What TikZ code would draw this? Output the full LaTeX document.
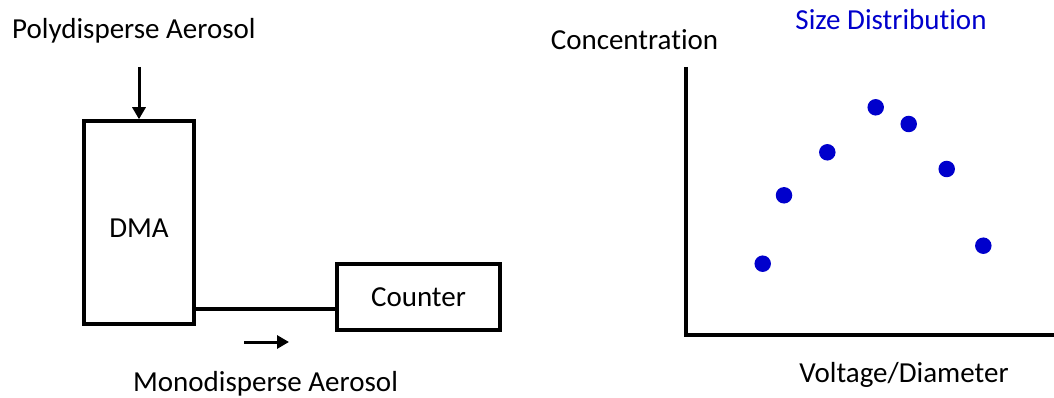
\documentclass[tikz,border=0pt]{standalone}
\usepackage{fontspec}
\setmainfont{Carlito}[Ligatures={NoCommon}]
\usetikzlibrary{arrows.meta}
\definecolor{dotblue}{RGB}{0,0,204}
\tikzset{
  box/.style={draw, line width=3.5pt, inner sep=0pt, font=\fontsize{29}{34}\selectfont},
  label/.style={inner sep=0pt, font=\fontsize{29}{34}\selectfont},
  wire/.style={line width=3.5pt},
  flow/.style={line width=3pt, -{Triangle[width=13pt,length=12pt]}},
  axis/.style={line width=4pt},
  dot/.style={circle, fill=dotblue, minimum size=16.5pt, inner sep=0pt}
}
\begin{document}
\begin{tikzpicture}[x=1pt,y=-1pt]
  \useasboundingbox (0,0) rectangle (1054,398);
  % instrument chain
  \node[box, minimum width=110pt, minimum height=203pt] (dma) at (139,222.5) {};
  \node[label] (dmatext) at (139,228) {DMA};
  \node[box, minimum width=163pt, minimum height=66pt] (counter) at (418.5,297) {Counter};
  \coordinate (inlet) at (139,67);
  \draw[flow] (inlet) -- (dma.north);
  \coordinate (outlet) at (dma.east |- 0,309);
  \draw[wire] (outlet) -- (outlet -| counter.west);
  \coordinate (fa) at (244,342);
  \coordinate (fb) at (289,342);
  \draw[flow] (fa) -- (fb);
  \node[label, anchor=west] (poly) at (12,31) {Polydisperse Aerosol};
  \node[label] (mono) at (265.5,384) {Monodisperse Aerosol};
  % size distribution plot
  \coordinate (origin) at (686,335);
  \coordinate (ytop) at (686,67);
  \coordinate (xend) at (1054,335);
  \draw[axis] (ytop) -- (origin) -- (xend);
  \node[label] (ylab) at (634.5,40) {Concentration};
  \node[label] (xlab) at (904,375) {Voltage/Diameter};
  \node[label, text=dotblue] (title) at (891,20) {Size Distribution};
  \node[dot] (d1) at (762.7,263.7) {};
  \node[dot] (d2) at (784,195.3) {};
  \node[dot] (d3) at (827.3,152.3) {};
  \node[dot] (d4) at (875.7,107.3) {};
  \node[dot] (d5) at (908.7,124) {};
  \node[dot] (d6) at (946.7,169) {};
  \node[dot] (d7) at (983.3,245.7) {};
\end{tikzpicture}
\end{document}
